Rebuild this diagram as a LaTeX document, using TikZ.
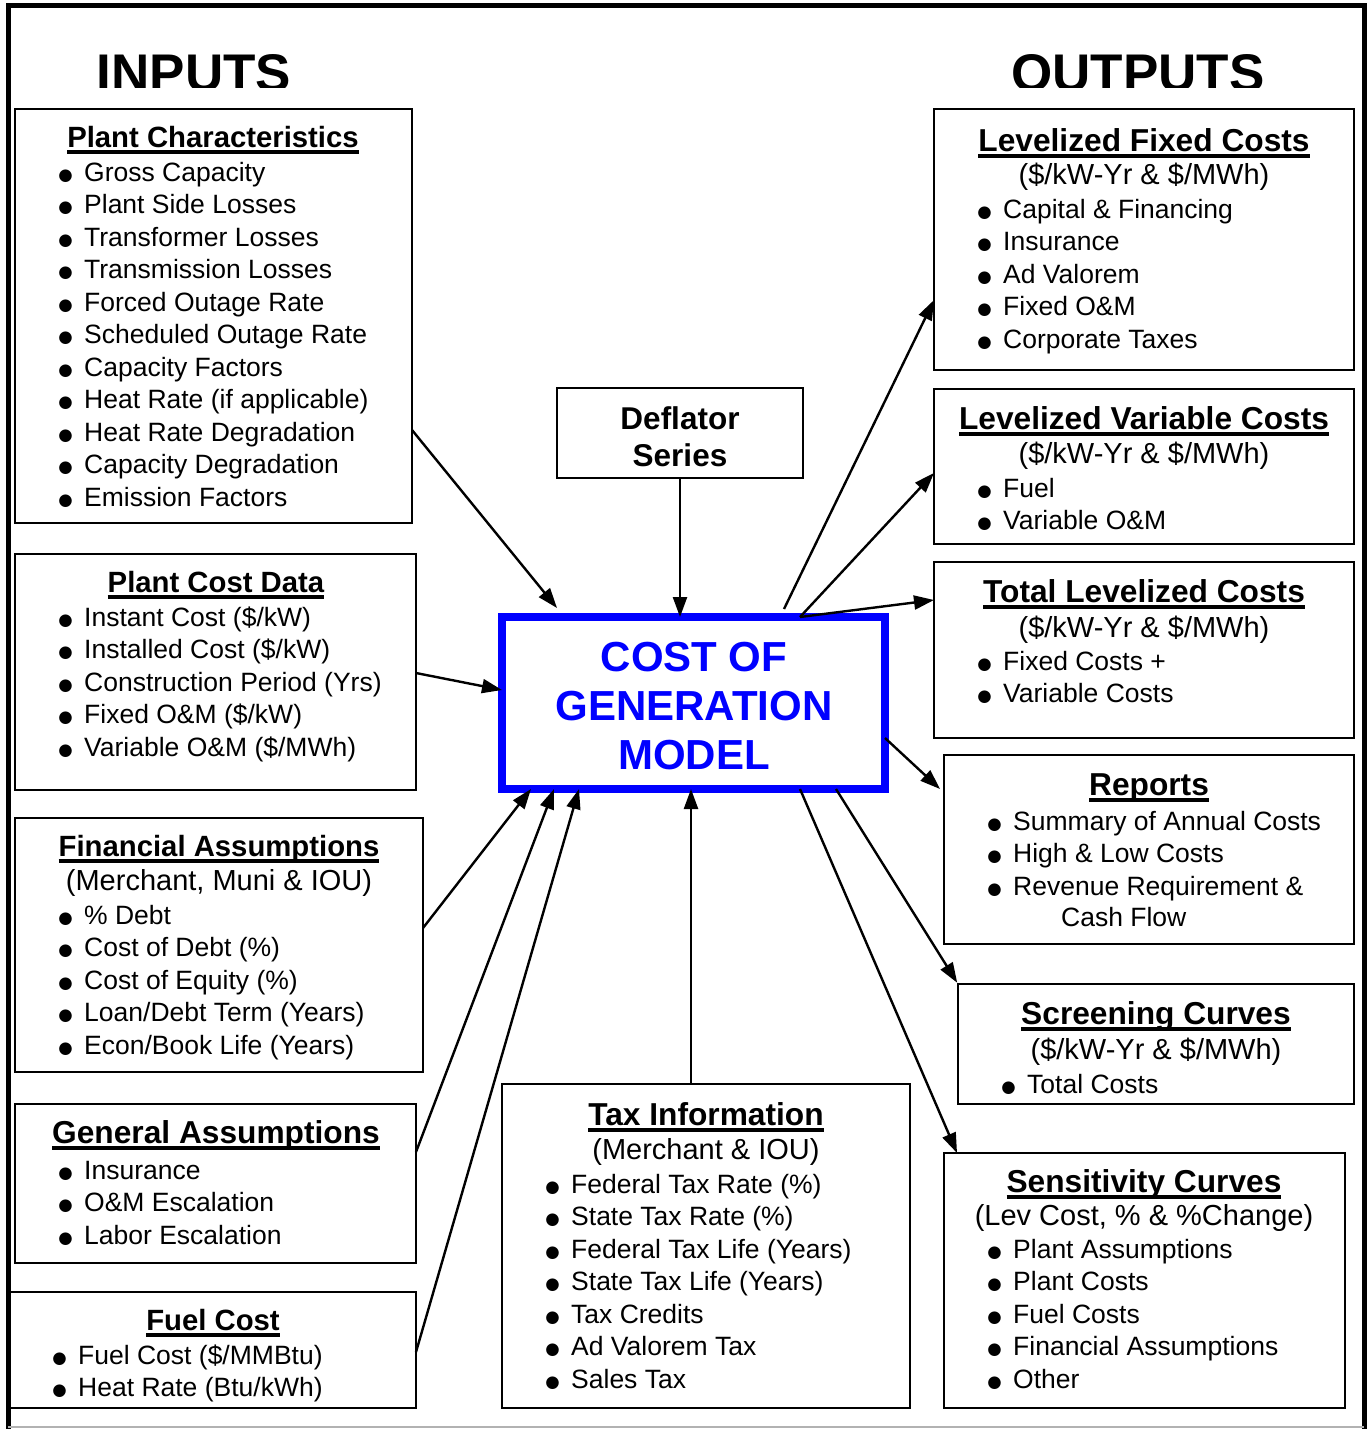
\documentclass[tikz,border=0pt]{standalone}
\usepackage{fontspec}
\setmainfont{Liberation Sans}
\newfontfamily\dejavu{DejaVu Sans}
\usetikzlibrary{arrows.meta,calc}
\definecolor{mblue}{RGB}{0,0,255}
\newcommand\fBul{\fontsize{26.5}{32.5}\selectfont}
\newcommand\fSub{\fontsize{29}{34}\selectfont}
\newcommand\fTa{\fontsize{29.3}{34}\selectfont\bfseries}
\newcommand\fTb{\fontsize{31.7}{36}\selectfont\bfseries}
\newcommand\fHead{\fontsize{53}{53}\selectfont\bfseries}
\newcommand\myul[1]{\setbox0\hbox{#1}\rlap{\rule[-7pt]{\wd0}{3.8pt}}\box0}
\newcommand\bl{\llap{\raisebox{1pt}{\dejavu\fontsize{16.5}{16.5}\selectfont ●}\hspace{11.5pt}}}
\tikzset{
  box/.style={draw=black, line width=2pt, anchor=north west, inner sep=0pt, outer sep=0pt},
  ttl/.style={anchor=base, inner sep=0pt, font=\fTa},
  ttlb/.style={anchor=base, inner sep=0pt, font=\fTb},
  sub/.style={anchor=base, inner sep=0pt, font=\fSub},
  itm/.style={anchor=base west, inner sep=0pt, font=\fBul},
  arr/.style={line width=2.4pt, -{Triangle[length=20pt,width=14pt]}}
}
\newcommand\mkbox[5]{\node[box, minimum width={#4-#2}, minimum height={#5-#3}] (#1) at (#2,#3) {};}
\newcommand\blist[4]{%
  \foreach \itx [count=\i] in {#4}{
    \node[itm] (#1-\i) at (#2, {#3+(\i-1)*32.5}) {\bl\itx};
  }}
\begin{document}
\begin{tikzpicture}[x=1pt,y=-1pt]
\useasboundingbox (0,0) rectangle (1370,1429);
% frame
\draw[line width=5pt, line join=miter] (8.5,1429) -- (8.5,5.8) -- (1364.5,5.8) -- (1364.5,1429);
\draw[black!30, line width=1.5pt] (8,1427) -- (1364,1427);
% headings (clipped at the bottom as in the original)
\begin{scope}
\clip (0,0) rectangle (1370,87.5);
\node[anchor=base, inner sep=0pt, font=\fHead] (inputs) at (194,91) {INPUTS};
\node[anchor=base, inner sep=0pt, font=\fHead] (outputs) at (1138,91) {OUTPUTS};
\end{scope}

% ---------- inputs ----------
\mkbox{pchar}{15}{109}{412}{523}
\node[ttl] (pchar-t) at (213,147) {\myul{Plant Characteristics}};
\blist{pchar}{84}{181}{Gross Capacity, Plant Side Losses, Transformer Losses, Transmission Losses, Forced Outage Rate, Scheduled Outage Rate, Capacity Factors, {Heat Rate (if applicable)}, Heat Rate Degradation, Capacity Degradation, Emission Factors}

\mkbox{pcost}{15}{554}{416}{790}
\node[ttl] (pcost-t) at (216,592) {\myul{Plant Cost Data}};
\blist{pcost}{84}{626}{{Instant Cost (\$/kW)}, {Installed Cost (\$/kW)}, {Construction Period (Yrs)}, {Fixed O\&M (\$/kW)}, {Variable O\&M (\$/MWh)}}

\mkbox{fin}{15}{818}{423}{1072}
\node[ttl] (fin-t) at (219,856) {\myul{Financial Assumptions}};
\node[sub] (fin-s) at (219,890) {(Merchant, Muni \& IOU)};
\blist{fin}{84}{924}{{\% Debt}, {Cost of Debt (\%)}, {Cost of Equity (\%)}, {Loan/Debt Term (Years)}, {Econ/Book Life (Years)}}

\mkbox{gen}{15}{1104}{416}{1263}
\node[ttlb] (gen-t) at (216,1143) {\myul{General Assumptions}};
\blist{gen}{84}{1179}{Insurance, {O\&M Escalation}, Labor Escalation}

\mkbox{fuel}{8}{1292}{416}{1408}
\node[ttl] (fuel-t) at (213,1330) {\myul{Fuel Cost}};
\blist{fuel}{78}{1364}{{Fuel Cost (\$/MMBtu)}, {Heat Rate (Btu/kWh)}}

% ---------- centre ----------
\mkbox{defl}{557}{388}{803}{478}
\node[inner sep=0pt, align=center, font=\fontsize{31.5}{37}\selectfont\bfseries] (defl-t) at (680,437) {Deflator\\Series};

\node[draw=mblue, line width=8pt, minimum width=383pt, minimum height=172pt, inner sep=0pt, outer sep=0pt] (model) at (693.5,703) {};
\node[inner sep=0pt, align=center, text=mblue, font=\fontsize{42}{49}\selectfont\bfseries] (model-t) at (694,706) {COST OF\\GENERATION\\MODEL};

\mkbox{tax}{502}{1084}{910}{1408}
\node[ttlb] (tax-t) at (706,1125) {\myul{Tax Information}};
\node[sub] (tax-s) at (706,1159) {(Merchant \& IOU)};
\blist{tax}{571}{1193}{{Federal Tax Rate (\%)}, {State Tax Rate (\%)}, {Federal Tax Life (Years)}, {State Tax Life (Years)}, Tax Credits, Ad Valorem Tax, Sales Tax}

% ---------- outputs ----------
\mkbox{lfix}{934}{109}{1354}{370}
\node[ttlb] (lfix-t) at (1144,151) {\myul{Levelized Fixed Costs}};
\node[sub] (lfix-s) at (1144,184) {(\$/kW-Yr \& \$/MWh)};
\blist{lfix}{1003}{218}{{Capital \& Financing}, Insurance, Ad Valorem, {Fixed O\&M}, Corporate Taxes}

\mkbox{lvar}{934}{389}{1354}{544}
\node[ttlb] (lvar-t) at (1144,429) {\myul{Levelized Variable Costs}};
\node[sub] (lvar-s) at (1144,463) {(\$/kW-Yr \& \$/MWh)};
\blist{lvar}{1003}{497}{Fuel, {Variable O\&M}}

\mkbox{ltot}{934}{562}{1354}{738}
\node[ttlb] (ltot-t) at (1144,602) {\myul{Total Levelized Costs}};
\node[sub] (ltot-s) at (1144,637) {(\$/kW-Yr \& \$/MWh)};
\blist{ltot}{1003}{670}{{Fixed Costs +}, Variable Costs}

\mkbox{rep}{944}{755}{1354}{944}
\node[ttlb] (rep-t) at (1149,795) {\myul{Reports}};
\blist{rep}{1013}{830}{Summary of Annual Costs, {High \& Low Costs}, {Revenue Requirement \&}}
\node[itm] (rep-c) at (1061,926) {Cash Flow};

\mkbox{scr}{958}{984}{1354}{1104}
\node[ttlb] (scr-t) at (1156,1024) {\myul{Screening Curves}};
\node[sub] (scr-s) at (1156,1059) {(\$/kW-Yr \& \$/MWh)};
\blist{scr}{1027}{1093}{Total Costs}

\mkbox{sens}{944}{1153}{1345}{1408}
\node[ttlb] (sens-t) at (1144,1192) {\myul{Sensitivity Curves}};
\node[sub] (sens-s) at (1144,1225) {(Lev Cost, \% \& \%Change)};
\blist{sens}{1013}{1258}{Plant Assumptions, Plant Costs, Fuel Costs, Financial Assumptions, Other}

% ---------- connectors ----------
\draw[arr] (pchar.east |- 0,430) -- ($(model.north -| 557,0)+(0,-9)$);
\draw[arr] (defl.south) -- (defl.south |- model.north);
\draw[arr] (pcost.east |- 0,673) -- (model.west |- 0,690);
\draw[arr] (fin.east |- 0,928) -- (model.south -| 531,0);
\draw[arr] (gen.east |- 0,1152) -- (model.south -| 554,0);
\draw[arr] (fuel.east |- 0,1352) -- (model.south -| 579,0);
\draw[arr] (tax.north -| 691,0) -- (model.south -| 691,0);

\draw[arr] ($(model.north -| 784,0)+(0,-8)$) -- (lfix.west |- 0,300);
\draw[arr] (model.north -| 800,0) -- (lvar.west |- 0,473);
\draw[arr] (model.north -| 800,0) -- (ltot.west |- 0,600);
\draw[arr] (model.east |- 0,738) -- ($(rep.west |- 0,789)+(-4,0)$);
\draw[arr, shorten >=1.5pt] (model.south -| 836,0) -- (scr.north west);
\draw[arr] (model.south -| 800,0) -- (sens.north -| 957,0);
\end{tikzpicture}
\end{document}
